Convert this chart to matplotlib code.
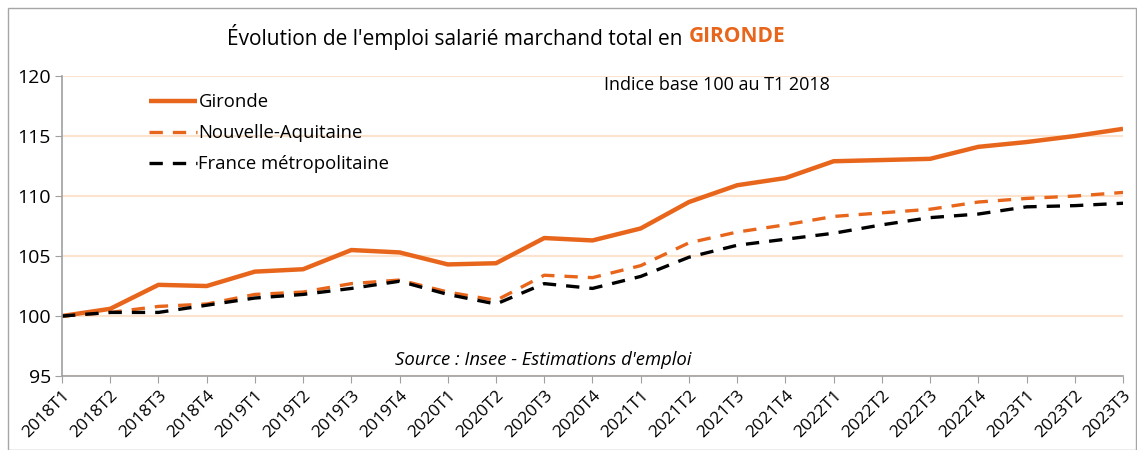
import matplotlib
matplotlib.use("Agg")
import matplotlib.pyplot as plt
from matplotlib.patches import Rectangle

plt.rcParams['font.family'] = ['Open Sans', 'DejaVu Sans']

quarters = ['2018T1', '2018T2', '2018T3', '2018T4',
            '2019T1', '2019T2', '2019T3', '2019T4',
            '2020T1', '2020T2', '2020T3', '2020T4',
            '2021T1', '2021T2', '2021T3', '2021T4',
            '2022T1', '2022T2', '2022T3', '2022T4',
            '2023T1', '2023T2', '2023T3']

gironde = [100.0, 100.6, 102.6, 102.5, 103.7, 103.9, 105.5, 105.3,
           104.3, 104.4, 106.5, 106.3, 107.3, 109.5, 110.9, 111.5,
           112.9, 113.0, 113.1, 114.1, 114.5, 115.0, 115.6]

nouvelle_aquitaine = [100.0, 100.3, 100.8, 101.0, 101.8, 102.0, 102.7, 103.0,
                      102.0, 101.3, 103.4, 103.2, 104.2, 106.1, 107.0, 107.6,
                      108.3, 108.6, 108.9, 109.5, 109.8, 110.0, 110.3]

france_metro = [100.0, 100.3, 100.3, 100.9, 101.5, 101.8, 102.3, 102.9,
                101.8, 101.0, 102.7, 102.3, 103.3, 104.9, 105.9, 106.4,
                106.9, 107.6, 108.2, 108.5, 109.1, 109.2, 109.4]

orange = '#E8661C'
grid_col = '#FCE3CE'

fig = plt.figure(figsize=(11.37, 4.5), dpi=100)
ax = fig.add_axes([0.0545, 0.1644, 0.9332, 0.6666])

x = range(len(quarters))
ax.plot(x, gironde, color=orange, lw=3.2, label='Gironde', solid_capstyle='butt')
ax.plot(x, nouvelle_aquitaine, color=orange, lw=2.4, dashes=(4, 3),
        label='Nouvelle-Aquitaine')
ax.plot(x, france_metro, color='black', lw=2.4, dashes=(4, 3),
        label='France métropolitaine')

ax.set_xlim(0, len(quarters) - 1)
ax.set_ylim(95, 120)
ax.set_yticks([95, 100, 105, 110, 115, 120])
ax.set_xticks(list(x))
ax.set_xticklabels(quarters, rotation=45, ha='right', rotation_mode='anchor',
                   fontsize=12.5)
ax.tick_params(axis='y', labelsize=14, length=5, color='#A0A0A0', pad=3)
ax.tick_params(axis='x', length=5, color='#A0A0A0', pad=3)
ax.yaxis.grid(True, color=grid_col, lw=1.5)
ax.set_axisbelow(True)
for s in ['top', 'right']:
    ax.spines[s].set_visible(False)
for s in ['left', 'bottom']:
    ax.spines[s].set_color('#A0A0A0')
    ax.spines[s].set_linewidth(1.2)

leg = ax.legend(loc='upper left', bbox_to_anchor=(0.066, 0.998), frameon=False,
                fontsize=13.3, handlelength=2.6, handletextpad=0.1,
                labelspacing=0.7)

ax.text(0.617, 0.97, 'Indice base 100 au T1 2018', transform=ax.transAxes,
        ha='center', va='center', fontsize=13)
ax.text(0.454, 0.053, "Source : Insee - Estimations d'emploi",
        transform=ax.transAxes, ha='center', va='center', fontsize=13.3,
        style='italic')

# title in two colours
t1 = fig.text(0.2, 0.918, "Évolution de l'emploi salarié marchand total en ",
              fontsize=15, va='center', ha='left')
fig.canvas.draw()
bb = t1.get_window_extent()
x1 = fig.transFigure.inverted().transform((bb.x1, bb.y0))[0]
fig.text(x1, 0.918, 'GIRONDE', fontsize=15, fontweight='bold', color=orange,
         va='center', ha='left')

fig.patches.append(Rectangle((0.007, 0.0), 0.992, 0.982,
                             transform=fig.transFigure, fill=False,
                             edgecolor='#A6A6A6', lw=1))

fig.savefig('out.png', dpi=100)
